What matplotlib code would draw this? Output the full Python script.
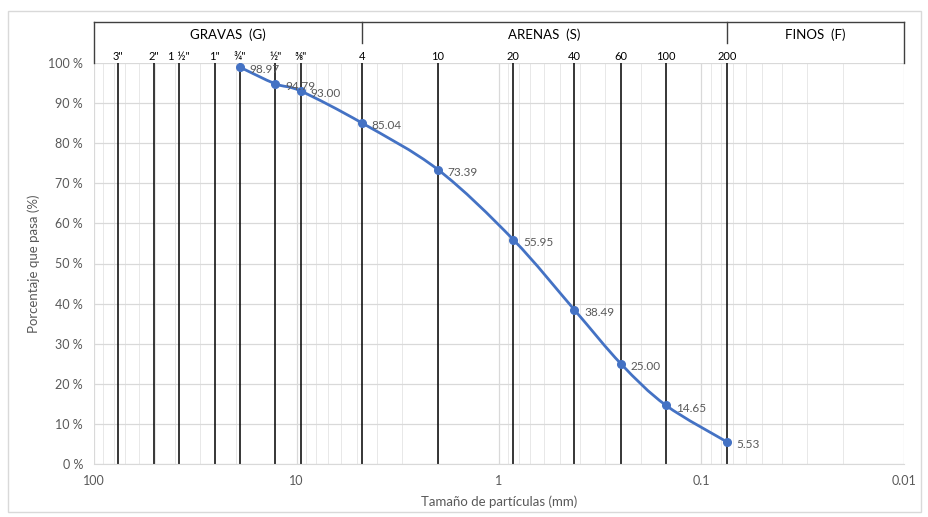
"""
Curva granulométrica: porcentaje que pasa vs tamaño de partículas.
"""
import numpy as np
import matplotlib.pyplot as plt
from matplotlib.path import Path
from matplotlib.patches import PathPatch, Rectangle
from matplotlib.ticker import FixedLocator, LogLocator, NullFormatter

plt.rcParams['font.family'] = ['Lato', 'DejaVu Sans']

# Tamices (mm) y sus nombres
sieve_sizes = [76.2, 50.8, 38.1, 25.4, 19.05, 12.7, 9.525, 4.75, 2.0, 0.85, 0.425, 0.25, 0.15, 0.075]
sieve_labels = ['3"', '2"', '1 ½"', '1"', '¾"', '½"', '⅜"', '4', '10', '20', '40', '60', '100', '200']

# Resultados del ensayo
grain_size = [19.05, 12.7, 9.525, 4.75, 2.0, 0.85, 0.425, 0.25, 0.15, 0.075]
passing = [98.97, 94.79, 93.00, 85.04, 73.39, 55.95, 38.49, 25.00, 14.65, 5.53]

# Zonas del encabezado (límites en mm)
zone_names = ['GRAVAS  (G)', 'ARENAS  (S)', 'FINOS  (F)']
zone_bounds = [100, 4.75, 0.075, 0.01]

BLUE = '#4472C4'
GRID = '#d9d9d9'
TXT = '#595959'


def smooth_path(xs, ys):
    # curva suavizada tipo Excel (Catmull-Rom -> Bezier) en espacio log
    lx = np.log10(xs)
    y = np.asarray(ys, dtype=float)
    n = len(lx)
    verts = [(xs[0], y[0])]
    codes = [Path.MOVETO]
    for i in range(n - 1):
        p0 = (lx[max(i - 1, 0)], y[max(i - 1, 0)])
        p1 = (lx[i], y[i])
        p2 = (lx[i + 1], y[i + 1])
        p3 = (lx[min(i + 2, n - 1)], y[min(i + 2, n - 1)])
        c1 = (p1[0] + (p2[0] - p0[0]) / 6, p1[1] + (p2[1] - p0[1]) / 6)
        c2 = (p2[0] - (p3[0] - p1[0]) / 6, p2[1] - (p3[1] - p1[1]) / 6)
        for c in (c1, c2, p2):
            verts.append((10 ** c[0], c[1]))
            codes.append(Path.CURVE4)
    return Path(verts, codes)


fig = plt.figure(figsize=(9.29, 5.17), dpi=100)
ax = fig.add_axes([94 / 929, 1 - 464 / 517, (904 - 94) / 929, (464 - 63) / 517])

# marco exterior del gráfico
fig.patches.append(Rectangle((8 / 929, 1 - 512 / 517), 913 / 929, 501 / 517,
                             transform=fig.transFigure, fill=False,
                             edgecolor=GRID, linewidth=1))

ax.set_xscale('log')
ax.set_xlim(100, 0.01)
ax.set_ylim(0, 100)

ax.xaxis.set_major_locator(FixedLocator([100, 10, 1, 0.1, 0.01]))
ax.set_xticklabels(['100', '10', '1', '0.1', '0.01'])
ax.xaxis.set_minor_locator(LogLocator(base=10, subs=np.arange(2, 10)))
ax.xaxis.set_minor_formatter(NullFormatter())
ax.set_yticks(np.arange(0, 101, 10))
ax.set_yticklabels([f'{v} %' for v in range(0, 101, 10)])

ax.grid(True, which='major', color=GRID, linewidth=0.9)
ax.grid(True, which='minor', axis='x', color='#e8e8e8', linewidth=0.7)
ax.set_axisbelow(True)
ax.tick_params(which='both', length=0, labelsize=9, colors=TXT, pad=8)
for side in ['top', 'left', 'right']:
    ax.spines[side].set_visible(False)
ax.spines['bottom'].set_color(GRID)

ax.set_xlabel('Tamaño de partículas (mm)', fontsize=9.5, color=TXT, labelpad=6)
ax.set_ylabel('Porcentaje que pasa (%)', fontsize=9.5, color=TXT, labelpad=6)

# líneas de tamices
for s, lab in zip(sieve_sizes, sieve_labels):
    ax.axvline(s, color='black', linewidth=1.1, zorder=2)
    ax.text(s, 101.6, lab, ha='center', va='center', fontsize=8, color='black')

# encabezado de zonas
trans = ax.get_xaxis_transform()
top = 1.102
ax.plot([100, 0.01], [top, top], transform=trans, color='#404040', lw=1, clip_on=False)
ax.plot([100, 100], [1, top], transform=trans, color='#404040', lw=1, clip_on=False)
ax.plot([0.01, 0.01], [1, top], transform=trans, color='#404040', lw=1, clip_on=False)
for b in zone_bounds[1:-1]:
    ax.plot([b, b], [1.05, top], transform=trans, color='#404040', lw=1, clip_on=False)
for name, a, b in zip(zone_names, zone_bounds[:-1], zone_bounds[1:]):
    ax.text(np.sqrt(a * b), 1.071, name, transform=trans, ha='center', va='center',
            fontsize=9.5, color='black')

# curva granulométrica
ax.add_patch(PathPatch(smooth_path(grain_size, passing), fill=False,
                       edgecolor=BLUE, linewidth=2, zorder=3))
ax.plot(grain_size, passing, 'o', color=BLUE, markersize=5.5, zorder=4)
for x, y in zip(grain_size, passing):
    ax.annotate(f'{y:.2f}', (x, y), xytext=(7, -2), textcoords='offset points',
                ha='left', va='center', fontsize=8.5, color=TXT, zorder=5)

fig.savefig('out.png', dpi=100)
